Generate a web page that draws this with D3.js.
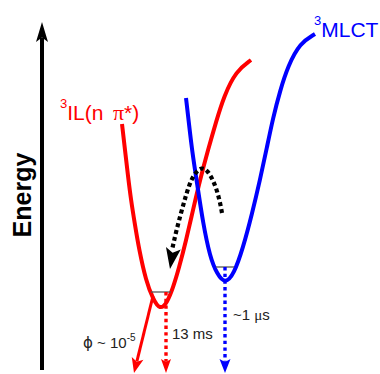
<!DOCTYPE html>
<html><head><meta charset="utf-8">
<script src="https://cdn.jsdelivr.net/npm/d3@7"></script>
<style>body{margin:0;background:#fff}svg{display:block}</style>
</head><body>
<script>
// Q = nuclear coordinate (a.u.), E = energy (a.u.)
const ilCurve = [[82,246],[85,220],[88,194],[91,170],[95,145],[99,121],[106,89],[113,71],[120,60],[127,67],[133,82],[139,102],[146,129],[153,160],[160,190],[168,220],[176,248],[184,274],[196,299],[211,310]];
const mlctCurve = [[146,272],[149,246],[152,220],[157,187],[163,147],[170,113],[177,96],[185,86],[194,96],[203,122],[212,156],[220,190],[227,223],[233,252],[240,279],[248,304],[260,327],[275,336]];
const ilLevel = [[111,78],[131,78]];
const mlctLevel = [[176,103],[194,103]];
const iscArc = [[182,157],[179,173],[174,188],[168,199],[162,203],[156,198],[151,190],[146,175],[141,157],[136,138],[132,120]];
const iscTip = [130,101];
const energyAxis = [[2,0],[2,348]];
const phiArrow = [[113,74],[94,-3]];
const ilDecay = [[126,78],[126,-3]];
const mlctDecay = [[185,103],[185,-3]];

const W = 380, H = 374;
const svg = d3.select("body").append("svg").attr("width", W).attr("height", H);
const x = d3.scaleLinear().domain([0, 300]).range([40, 340]);
const y = d3.scaleLinear().domain([0, 350]).range([370, 20]);
const smooth = d3.line().x(d => x(d[0])).y(d => y(d[1])).curve(d3.curveBasis);
const straight = d3.line().x(d => d[0]).y(d => d[1]);

function head(tip, from, len, hw, color) {
  let dx = tip[0] - from[0], dy = tip[1] - from[1];
  const L = Math.hypot(dx, dy); dx /= L; dy /= L;
  const nx = -dy, ny = dx;
  const b = [tip[0] - dx * len, tip[1] - dy * len];
  const notch = [tip[0] - dx * len * 0.78, tip[1] - dy * len * 0.78];
  svg.append("path")
    .attr("d", straight([tip, [b[0] + nx * hw, b[1] + ny * hw], notch, [b[0] - nx * hw, b[1] - ny * hw]]) + "Z")
    .attr("fill", color).attr("stroke", "none");
}
function straightArrow(pts, o) {
  const s = [x(pts[0][0]), y(pts[0][1])], t = [x(pts[1][0]), y(pts[1][1])];
  let dx = t[0] - s[0], dy = t[1] - s[1];
  const L = Math.hypot(dx, dy); dx /= L; dy /= L;
  const e = [t[0] - dx * o.len * 0.8, t[1] - dy * o.len * 0.8];
  svg.append("path").attr("d", straight([s, e])).attr("fill", "none")
    .attr("stroke", o.color).attr("stroke-width", o.width)
    .attr("stroke-dasharray", o.dash || null);
  head(t, s, o.len, o.hw, o.color);
}

// potential curves
svg.append("path").attr("d", smooth(ilCurve)).attr("fill", "none")
  .attr("stroke", "#ff0000").attr("stroke-width", 4);
svg.append("path").attr("d", smooth(mlctCurve)).attr("fill", "none")
  .attr("stroke", "#0000ff").attr("stroke-width", 4);

// vibrational levels
[ilLevel, mlctLevel].forEach(l => {
  svg.append("path").attr("d", straight(l.map(d => [x(d[0]), y(d[1])])))
    .attr("stroke", "#555").attr("stroke-width", 1.3).attr("fill", "none");
});

// energy axis
straightArrow(energyAxis, {color: "#000", width: 4, len: 20, hw: 6});

// decays
straightArrow(phiArrow, {color: "#ff0000", width: 3, len: 15, hw: 6});
straightArrow(ilDecay, {color: "#ff0000", width: 3.4, len: 14, hw: 5, dash: "3.4 3.3"});
straightArrow(mlctDecay, {color: "#0000ff", width: 3.4, len: 14, hw: 5.5, dash: "3.4 3.3"});

// ISC curved arrow
svg.append("path").attr("d", smooth(iscArc)).attr("fill", "none")
  .attr("stroke", "#000").attr("stroke-width", 4.2).attr("stroke-dasharray", "4 3");
head([x(iscTip[0]), y(iscTip[1])], [x(iscArc[iscArc.length - 2][0]), y(iscArc[iscArc.length - 2][1])], 21, 7.5, "#000");

// labels
const sans = "'Liberation Sans', Arial, Helvetica, sans-serif";
const serif = "'Liberation Serif', 'DejaVu Serif', serif";

svg.append("text").attr("transform", `translate(31,195) rotate(-90)`)
  .attr("text-anchor", "middle").attr("font-family", sans).attr("font-weight", "bold")
  .attr("font-size", 25).attr("fill", "#000").text("Energy");

const il = svg.append("text").attr("x", x(20)).attr("y", y(250)).attr("font-family", sans).attr("fill", "#ff0000");
il.append("tspan").attr("font-size", 13).attr("dy", -12).text("3");
il.append("tspan").attr("font-size", 21).attr("dy", 12).text("IL(n");
il.append("tspan").attr("font-size", 22).attr("font-family", serif).attr("x", x(73)).text("π");
il.append("tspan").attr("font-size", 21).text("*)");

const ml = svg.append("text").attr("x", x(274)).attr("y", y(333)).attr("font-family", sans).attr("fill", "#0000ff");
ml.append("tspan").attr("font-size", 13).attr("dy", -12).text("3");
ml.append("tspan").attr("font-size", 21).attr("dy", 12).text("MLCT");

const phi = svg.append("text").attr("x", x(43)).attr("y", y(22)).attr("font-family", sans).attr("font-size", 15).attr("fill", "#222");
phi.append("tspan").attr("font-family", "'DejaVu Sans', sans-serif").text("ϕ");
phi.append("tspan").text(" ~ 10");
phi.append("tspan").attr("font-size", 10).attr("dy", -7).text("-5");

svg.append("text").attr("x", x(132)).attr("y", y(31)).attr("font-family", sans)
  .attr("font-size", 15).attr("fill", "#222").text("13 ms");

const mu = svg.append("text").attr("x", x(193)).attr("y", y(50)).attr("font-family", sans).attr("font-size", 15).attr("fill", "#222");
mu.append("tspan").text("~1 ");
mu.append("tspan").attr("font-family", serif).text("μ");
mu.append("tspan").text("s");
</script>
</body></html>
